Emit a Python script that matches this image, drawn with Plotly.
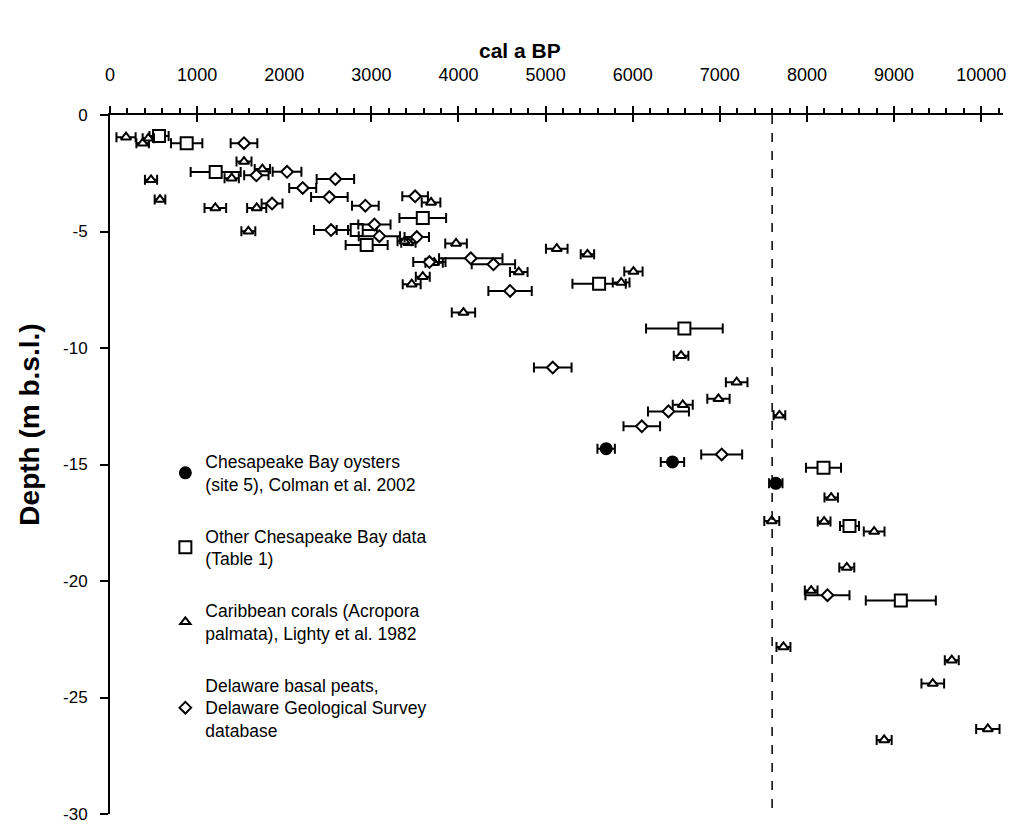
import plotly.graph_objects as go

# ---- data (cal a BP, depth m b.s.l., age uncertainty +/- years) ----
oyster_age = [5695, 6456, 7642]
oyster_depth = [-14.32, -14.89, -15.81]
oyster_err = [100, 134, 77]

other_age = [563, 880, 1213, 3590, 2832, 2946, 5614, 6593, 8190, 8488, 9077]
other_depth = [-0.90, -1.21, -2.45, -4.42, -4.94, -5.58, -7.24, -9.16, -15.14, -17.64, -20.84]
other_err = [110, 180, 287, 268, 230, 241, 306, 440, 201, 109, 402]

coral_age = [184, 375, 440, 471, 574, 1209, 1397, 1538, 1588, 1684, 1749, 3685, 3425, 3380,
             3972, 3720, 3590, 3463, 4057, 4692, 5128, 5480, 5867, 6008, 6555, 7193, 6984,
             6574, 7684, 7596, 8278, 8197, 8771, 8457, 8048, 7730, 9662, 9444, 10076, 8886]
coral_depth = [-0.95, -1.21, -1.00, -2.78, -3.63, -3.99, -2.71, -2.00, -4.99, -3.99, -2.32, -3.75,
               -5.48, -5.42, -5.51, -6.34, -6.94, -7.26, -8.48, -6.74, -5.74, -5.98, -7.19, -6.72,
               -10.33, -11.47, -12.18, -12.44, -12.89, -17.42, -16.42, -17.45, -17.88, -19.42,
               -20.41, -22.83, -23.40, -24.40, -26.35, -26.82]
coral_err = [110, 72, 65, 70, 61, 124, 82, 86, 80, 110, 88, 107, 82, 80,
             124, 100, 80, 103, 134, 101, 124, 77, 96, 105, 84, 124, 128,
             115, 67, 86, 77, 73, 119, 86, 73, 80, 80, 130, 134, 86]

peat_age = [1538, 1680, 2032, 2587, 2212, 2518, 1860, 2537, 2931, 3502, 3035, 3092, 3521,
            3666, 4141, 4401, 4592, 5082, 6410, 6104, 7021, 8235]
peat_depth = [-1.21, -2.59, -2.44, -2.75, -3.13, -3.52, -3.80, -4.94, -3.89, -3.49, -4.70, -5.20,
              -5.24, -6.31, -6.15, -6.41, -7.55, -10.84, -12.72, -13.36, -14.57, -20.61]
peat_err = [153, 140, 165, 215, 155, 210, 120, 195, 153, 147, 185, 237, 140,
            185, 364, 249, 249, 216, 235, 210, 235, 253]

x_ticks = [0, 1000, 2000, 3000, 4000, 5000, 6000, 7000, 8000, 9000, 10000]
x_ticklabels = ["0", "1000", "2000", "3000", "4000", "5000", "6000", "7000", "8000", "9000", "10000"]
y_ticks = [0, -5, -10, -15, -20, -25, -30]
y_ticklabels = ["0", "-5", "-10", "-15", "-20", "-25", "-30"]
ref_age = 7600

names = [
    "Chesapeake Bay oysters<br>(site 5), Colman et al. 2002",
    "Other Chesapeake Bay data<br>(Table 1)",
    "Caribbean corals (Acropora<br>palmata), Lighty et al. 1982",
    "Delaware basal peats,<br>Delaware Geological Survey<br>database",
]

FONT = "Arial, Liberation Sans, sans-serif"
fig = go.Figure()

def add(xs, ys, errs, name, symbol, size, fill, group):
    fig.add_trace(go.Scatter(
        x=xs, y=ys, mode="markers", name=name, legendgroup=group,
        marker=dict(symbol=symbol, size=size, color=fill,
                    line=dict(color="black", width=2)),
        error_x=dict(type="data", array=errs, symmetric=True,
                     color="black", thickness=2, width=5),
    ))

add(oyster_age, oyster_depth, oyster_err, names[0], "circle", 11, "black", "g1")
add(other_age, other_depth, other_err, names[1], "square", 12, "white", "g2")
add(coral_age, coral_depth, coral_err, names[2], "triangle-up", 9, "white", "g3")
add(peat_age, peat_depth, peat_err, names[3], "diamond", 9, "white", "g4")

# dummy trace to realise the overlay axis used for the inner half of major ticks
fig.add_trace(go.Scatter(x=[None], y=[None], xaxis="x2", yaxis="y", showlegend=False,
                         hoverinfo="skip"))

fig.add_shape(type="line", x0=ref_age, x1=ref_age, y0=0, y1=-30, xref="x", yref="y",
              line=dict(color="black", width=1.5, dash="dash"))

fig.add_annotation(text="<b>cal a BP</b>", x=0.459, y=1.0926, xref="paper", yref="paper",
                   xanchor="center", yanchor="middle", showarrow=False,
                   font=dict(size=21, family=FONT, color="black"))
fig.add_annotation(text="<b>Depth (m b.s.l.)</b>", x=-0.0896, y=0.557, xref="paper",
                   yref="paper", xanchor="center", yanchor="middle", showarrow=False,
                   textangle=-90, font=dict(size=28, family=FONT, color="black"))

# page body has an 8px margin: figure is sized/margined so the plot lands at
# x 110..1003, y 115..814 in the window
fig.update_layout(
    width=1007, height=817,
    margin=dict(l=102, r=12, t=107, b=11, autoexpand=False),
    paper_bgcolor="white", plot_bgcolor="white",
    font=dict(family=FONT, color="black", size=17),
    xaxis=dict(range=[0, 10250], side="top", showline=True, linecolor="black", linewidth=2,
               showgrid=False, zeroline=False, tickvals=x_ticks, ticktext=x_ticklabels,
               ticks="outside", ticklen=7, tickwidth=2, tickcolor="black",
               tickfont=dict(size=18), ticklabelstandoff=18, automargin=False,
               ticklabeloverflow="allow",
               minor=dict(dtick=200, ticks="outside", ticklen=5, tickwidth=2,
                          tickcolor="black", showgrid=False)),
    xaxis2=dict(range=[0, 10250], overlaying="x", side="top", showline=False,
                showgrid=False, zeroline=False, tickvals=x_ticks, showticklabels=False,
                ticks="inside", ticklen=7, tickwidth=2, tickcolor="black", automargin=False),
    yaxis=dict(range=[-30, 0], showline=True, linecolor="black", linewidth=2,
               showgrid=False, zeroline=False, tickvals=y_ticks, ticktext=y_ticklabels,
               ticks="outside", ticklen=8, tickwidth=2, tickcolor="black",
               tickfont=dict(size=17), ticklabelstandoff=9, automargin=False,
               ticklabeloverflow="allow"),
    showlegend=True,
    legend=dict(x=0.062, y=0.53, xanchor="left", yanchor="top", bgcolor="rgba(0,0,0,0)",
                font=dict(size=17.5, family=FONT, color="black"), tracegroupgap=26,
                itemwidth=30),
)

fig.write_html("out.html")
